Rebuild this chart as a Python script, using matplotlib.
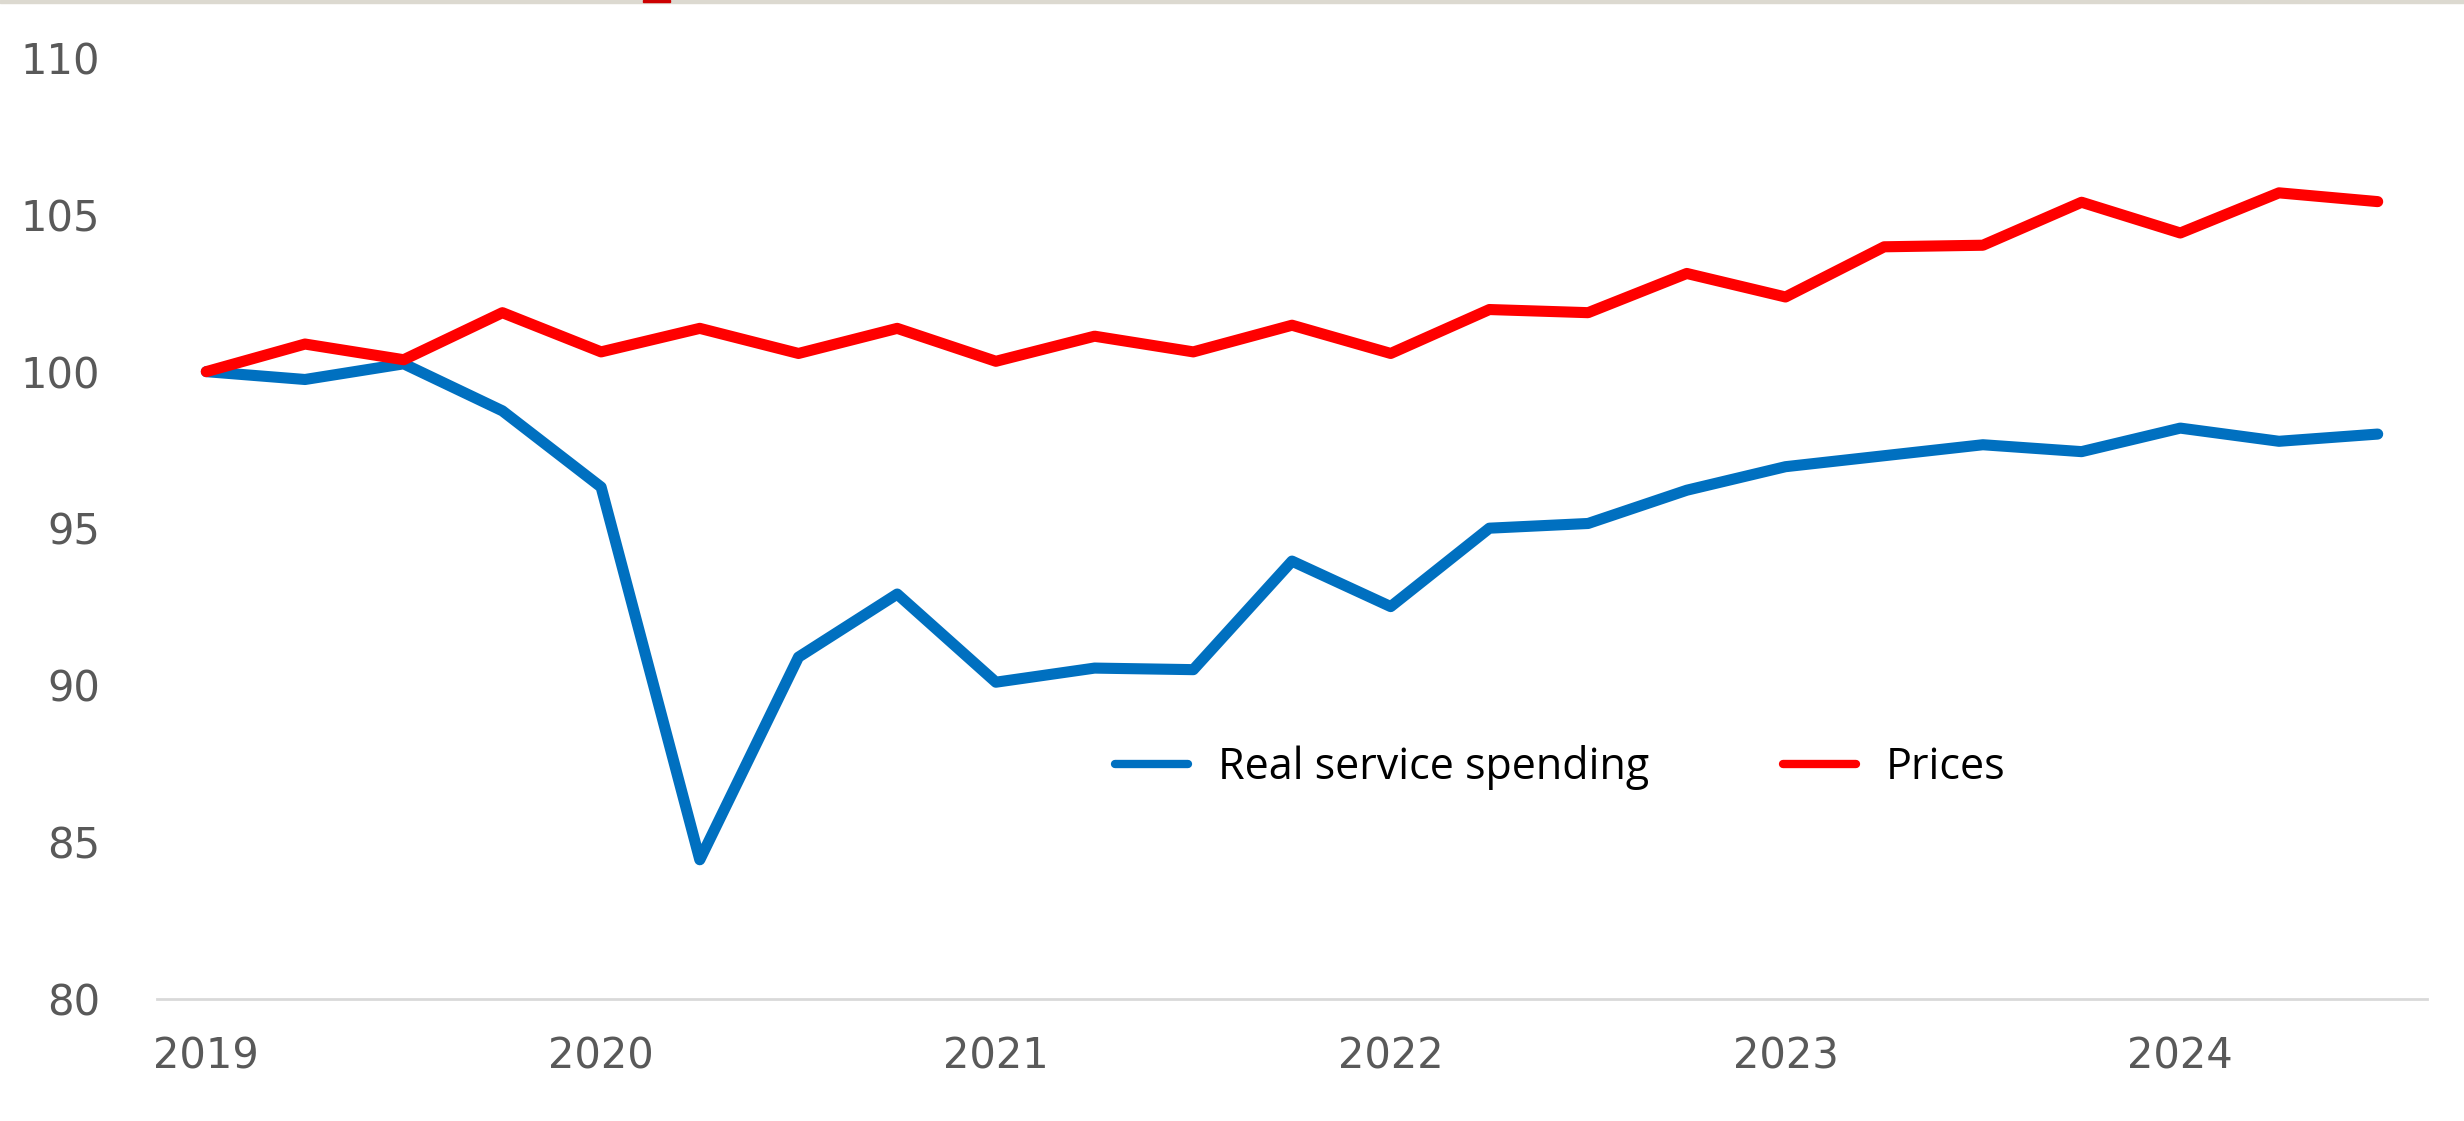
import numpy as np
import matplotlib
matplotlib.use("Agg")
import matplotlib.pyplot as plt
from matplotlib.patches import Rectangle

# 季度指数，2019Q1 = 100
quarters = [f"{y}Q{q}" for y in range(2019, 2025) for q in range(1, 5)][:23]

real_service_spending = [100.0, 99.75, 100.25, 98.75, 96.32, 84.44, 90.9, 92.91,
                         90.1, 90.55, 90.5, 93.96, 92.51, 95.01, 95.16, 96.22,
                         96.97, 97.32, 97.67, 97.45, 98.2, 97.78, 98.01]
prices = [100.0, 100.88, 100.38, 101.88, 100.63, 101.38, 100.58, 101.38,
          100.33, 101.13, 100.63, 101.48, 100.58, 101.98, 101.88, 103.13,
          102.38, 103.98, 104.03, 105.4, 104.42, 105.7, 105.42]

y_ticks = [80, 85, 90, 95, 100, 105, 110]
year_labels = [q[:4] for q in quarters if q.endswith("Q1")]

x = np.arange(len(quarters))
year_pos = [i for i, q in enumerate(quarters) if q.endswith("Q1")]

plt.rcParams["font.family"] = ["DejaVu Sans"]

fig = plt.figure(figsize=(24.64, 11.21), dpi=100)
ax = fig.add_axes([0.0637, 0.1088, 0.9213, 0.8395])

ax.plot(x, real_service_spending, color="#0070C0", lw=8,
        solid_capstyle="round", solid_joinstyle="round", label="Real service spending")
ax.plot(x, prices, color="#FF0000", lw=8,
        solid_capstyle="round", solid_joinstyle="round", label="Prices")

ax.set_xlim(-0.5, 22.5)
ax.set_ylim(80, 110)
ax.set_yticks(y_ticks)
ax.set_xticks(year_pos)
ax.set_xticklabels(year_labels)

ax.tick_params(axis="both", length=0, labelsize=30, labelcolor="#595959")
ax.tick_params(axis="y", pad=41)
ax.tick_params(axis="x", pad=26)

for s in ["top", "right", "left"]:
    ax.spines[s].set_visible(False)
ax.spines["bottom"].set_color("#d9d9d9")
ax.spines["bottom"].set_linewidth(2)

leg = ax.legend(ncol=2, loc="center left", bbox_to_anchor=(0.4049, 0.2457),
                frameon=False, handlelength=1.7, handletextpad=0.7,
                columnspacing=3.1, prop={"family": "Open Sans", "size": 31})
for line in leg.get_lines():
    line.set_linewidth(6)
    line.set_solid_capstyle("round")

# 顶部细边条
fig.patches.append(Rectangle((0, 0.9975), 1, 0.0025, transform=fig.transFigure,
                             color="#dcd9d0", zorder=0))
fig.patches.append(Rectangle((0.261, 0.9985), 0.011, 0.0015, transform=fig.transFigure,
                             color="#cc0000", zorder=1))

fig.savefig("out.png", dpi=100)
